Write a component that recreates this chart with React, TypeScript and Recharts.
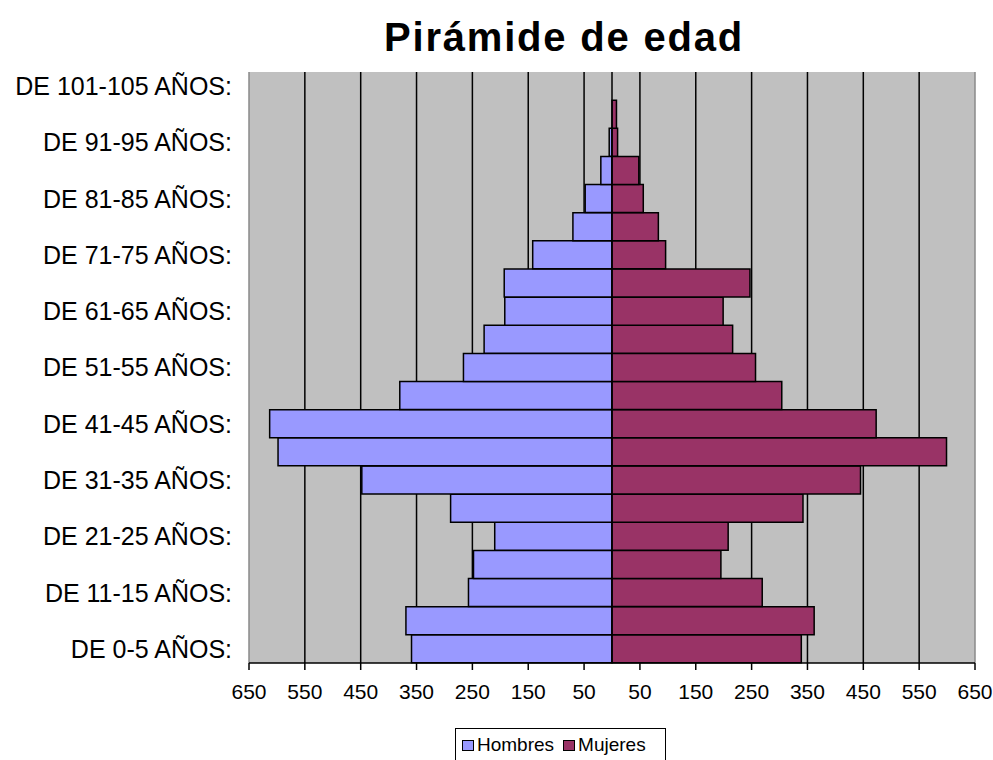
import React from "react";
import {
  BarChart,
  Bar,
  XAxis,
  YAxis,
  CartesianGrid,
  ReferenceLine,
} from "recharts";

const categories = [
  "DE 0-5 AÑOS:",
  "DE 6-10 AÑOS:",
  "DE 11-15 AÑOS:",
  "DE 16-20 AÑOS:",
  "DE 21-25 AÑOS:",
  "DE 26-30 AÑOS:",
  "DE 31-35 AÑOS:",
  "DE 36-40 AÑOS:",
  "DE 41-45 AÑOS:",
  "DE 46-50 AÑOS:",
  "DE 51-55 AÑOS:",
  "DE 56-60 AÑOS:",
  "DE 61-65 AÑOS:",
  "DE 66-70 AÑOS:",
  "DE 71-75 AÑOS:",
  "DE 76-80 AÑOS:",
  "DE 81-85 AÑOS:",
  "DE 86-90 AÑOS:",
  "DE 91-95 AÑOS:",
  "DE 96-100 AÑOS:",
  "DE 101-105 AÑOS:",
];

const hombres = [359, 369, 257, 248, 210, 289, 448, 598, 613, 380, 266, 229, 192, 193, 142, 70, 48, 20, 5, 0, 0];
const mujeres = [339, 362, 269, 195, 208, 342, 445, 599, 473, 304, 257, 216, 199, 247, 96, 83, 56, 48, 10, 8, 0];

const xTicks = [-650, -550, -450, -350, -250, -150, -50, 50, 150, 250, 350, 450, 550, 650];
const gridValues = [-550, -450, -350, -250, -150, -50, 50, 150, 250, 350, 450, 550];

const HOMBRES_COLOR = "#9999FF";
const MUJERES_COLOR = "#993366";
const FONT = "'Liberation Sans', Arial, Helvetica, sans-serif";

const data = categories.map((label, i) => ({
  label,
  Hombres: -hombres[i],
  Mujeres: mujeres[i],
}));

export default function App() {
  return (
    <div
      style={{
        position: "fixed",
        left: 0,
        top: 0,
        width: 993,
        height: 760,
        background: "#fff",
        fontFamily: FONT,
        overflow: "hidden",
      }}
    >
      <div
        style={{
          position: "absolute",
          left: 564,
          top: 14,
          transform: "translateX(-50%)",
          fontSize: 40,
          fontWeight: "bold",
          letterSpacing: 1.8,
          whiteSpace: "nowrap",
          color: "#000",
          lineHeight: "46px",
        }}
      >
        Pirámide de edad
      </div>
      <BarChart
        width={993}
        height={760}
        data={data}
        layout="vertical"
        stackOffset="sign"
        barCategoryGap={0}
        margin={{ top: 72, right: 18, bottom: 57, left: 0 }}
      >
        <CartesianGrid
          horizontal={false}
          vertical={true}
          verticalValues={gridValues}
          stroke="#000"
          strokeWidth={1.5}
          fill="#C0C0C0"
          fillOpacity={1}
        />
        <XAxis
          type="number"
          domain={[-650, 650]}
          ticks={xTicks}
          tickFormatter={(v: number) => String(Math.abs(v))}
          interval={0}
          axisLine={{ stroke: "#000", strokeWidth: 1.5 }}
          tickLine={{ stroke: "#000", strokeWidth: 1.5 }}
          tickSize={7}
          tickMargin={14}
          tick={{ fill: "#000", fontSize: 21, fontFamily: FONT }}
          height={40}
        />
        <YAxis
          type="category"
          dataKey="label"
          reversed
          interval={1}
          width={249}
          axisLine={false}
          tickLine={false}
          tickSize={6}
          tickMargin={11}
          tick={{ fill: "#000", fontSize: 25, fontFamily: FONT }}
        />
        <ReferenceLine x={-650} stroke="#8a8a8a" strokeWidth={1.5} />
        <ReferenceLine x={650} stroke="#8a8a8a" strokeWidth={1.5} />
        <Bar
          dataKey="Hombres"
          stackId="a"
          fill={HOMBRES_COLOR}
          stroke="#000"
          strokeWidth={1.5}
          isAnimationActive={false}
        />
        <Bar
          dataKey="Mujeres"
          stackId="a"
          fill={MUJERES_COLOR}
          stroke="#000"
          strokeWidth={1.5}
          isAnimationActive={false}
        />
        <ReferenceLine x={0} stroke="#000" strokeWidth={1.5} />
      </BarChart>
      <div
        style={{
          position: "absolute",
          left: 455,
          top: 728,
          width: 211,
          height: 40,
          border: "1.5px solid #000",
          boxSizing: "border-box",
          background: "#fff",
          display: "flex",
          alignItems: "flex-start",
          paddingTop: 6,
          paddingLeft: 6,
          fontSize: 19,
          lineHeight: "20px",
          color: "#000",
          whiteSpace: "nowrap",
        }}
      >
        <span
          style={{
            display: "inline-block",
            width: 12,
            height: 11,
            background: HOMBRES_COLOR,
            border: "1px solid #000",
            boxSizing: "border-box",
            marginTop: 5,
            marginRight: 3,
          }}
        />
        <span style={{ marginRight: 9 }}>Hombres</span>
        <span
          style={{
            display: "inline-block",
            width: 12,
            height: 11,
            background: MUJERES_COLOR,
            border: "1px solid #000",
            boxSizing: "border-box",
            marginTop: 5,
            marginRight: 3,
          }}
        />
        <span>Mujeres</span>
      </div>
    </div>
  );
}
